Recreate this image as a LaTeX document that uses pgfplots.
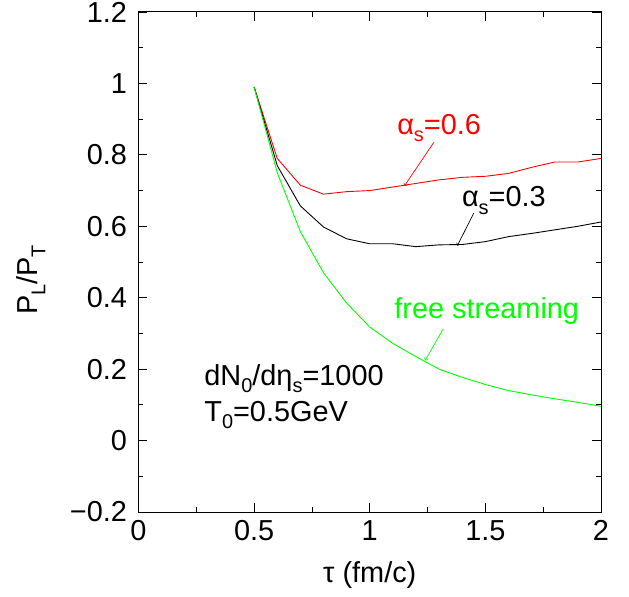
\documentclass[border=0pt]{standalone}
\usepackage{pgfplots}
\pgfplotsset{compat=1.18}
\usepackage{fontspec}
\setmainfont{Liberation Sans}
\newcommand{\sub}[1]{\raisebox{-0.5ex}{\fontsize{20}{20}\selectfont #1}}

\begin{document}
\begin{tikzpicture}
\useasboundingbox (-138.5bp,-85bp) rectangle (490.5bp,512bp);
\begin{axis}[
    at={(0,0)}, anchor=south west,
    scale only axis, width=462.5bp, height=500bp,
    xmin=0, xmax=2, ymin=-0.2, ymax=1.2,
    xtick={0,0.5,1,1.5,2}, minor x tick num=1,
    ytick={-0.2,0,0.2,0.4,0.6,0.8,1,1.2}, minor y tick num=1,
    yticklabels={−0.2,0,0.2,0.4,0.6,0.8,1,1.2},
    xticklabels={0,0.5,1,1.5,2},
    tick align=inside, major tick length=9bp, minor tick length=5bp,
    tick style={black, line width=0.8pt},
    axis line style={line width=1pt},
    font=\fontsize{29}{34}\selectfont,
    ticklabel style={font=\fontsize{29}{34}\selectfont},
    xticklabel style={yshift=-5bp},
    yticklabel style={xshift=-8bp},
    xlabel={τ (fm/c)}, ylabel={P\sub{L}/P\sub{T}},
    xlabel style={at={(axis description cs:0.5,-0.126)}, anchor=center},
    ylabel style={at={(axis description cs:-0.232,0.464)}, anchor=center},
    clip=false,
]
\addplot[red, line width=0.9pt] coordinates {
(0.5,0.99) (0.6,0.79) (0.7,0.715) (0.8,0.69) (0.9,0.697) (1.0,0.70)
(1.1,0.71) (1.2,0.72) (1.3,0.73) (1.4,0.737) (1.5,0.74) (1.6,0.748)
(1.7,0.765) (1.8,0.78) (1.9,0.78) (2.0,0.79)};
\addplot[black, line width=0.9pt] coordinates {
(0.5,0.99) (0.6,0.77) (0.7,0.657) (0.8,0.598) (0.9,0.565) (1.0,0.551)
(1.1,0.551) (1.2,0.543) (1.3,0.548) (1.4,0.549) (1.5,0.557) (1.6,0.571)
(1.7,0.58) (1.8,0.59) (1.9,0.60) (2.0,0.612)};
\addplot[green, line width=0.9pt] coordinates {
(0.5,0.99) (0.6,0.75) (0.7,0.585) (0.8,0.47) (0.9,0.385) (1.0,0.318)
(1.1,0.272) (1.2,0.235) (1.3,0.20) (1.4,0.177) (1.5,0.157) (1.6,0.14)
(1.7,0.128) (1.8,0.117) (1.9,0.107) (2.0,0.096)};
\draw[red, ->, line width=0.7pt] (axis cs:1.277,0.835) -- (axis cs:1.15,0.713);
\node[red] at (axis cs:1.30,0.875) {α\sub{s}=0.6};
\draw[black, ->, line width=0.7pt] (axis cs:1.45,0.637) -- (axis cs:1.379,0.546);
\node[black] at (axis cs:1.58,0.672) {α\sub{s}=0.3};
\draw[green, ->, line width=0.7pt] (axis cs:1.318,0.313) -- (axis cs:1.239,0.224);
\node[green] at (axis cs:1.506,0.364) {free streaming};
\node[anchor=west, align=left, inner sep=0pt] at (axis cs:0.284,0.123)
  {dN\sub{0}/dη\sub{s}=1000\\[2pt] T\sub{0}=0.5GeV};
\end{axis}
\end{tikzpicture}
\end{document}
